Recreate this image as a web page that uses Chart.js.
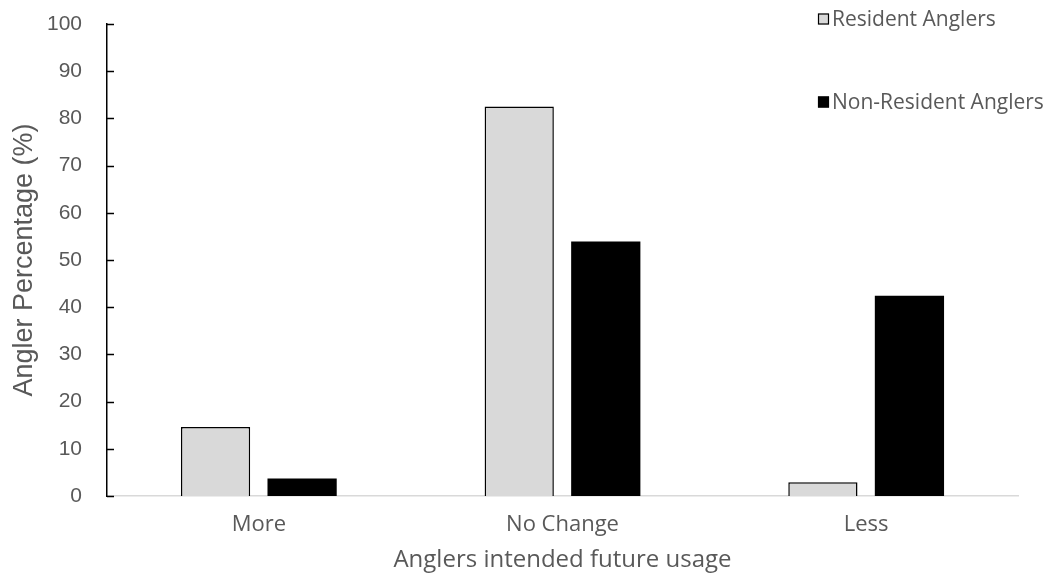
<!DOCTYPE html>
<html>
<head>
<meta charset="utf-8">
<script src="https://cdn.jsdelivr.net/npm/chart.js@4"></script>
<style>
  html, body { margin: 0; padding: 0; background: #fff; }
  #wrap { width: 1054px; height: 575px; position: relative; }
</style>
</head>
<body>
<div id="wrap"><canvas id="chart"></canvas></div>
<script>
// Survey categories and the share of anglers (%) in each
const categories = ['More', 'No Change', 'Less'];
const residentAnglers = [14.6, 82.5, 2.9];
const nonResidentAnglers = [3.7, 53.9, 42.4];
const seriesNames = ['Resident Anglers', 'Non-Resident Anglers'];
const yTicks = [0, 10, 20, 30, 40, 50, 60, 70, 80, 90, 100];

const textGray = '#595959';
const sansUI = '"Open Sans", "Noto Sans", sans-serif';
const sansAxis = '"Liberation Sans", Arial, sans-serif';

// Short tick marks pointing inward from the y axis line
const inwardTicks = {
  id: 'inwardTicks',
  afterDatasetsDraw(chart) {
    const y = chart.scales.y;
    const ctx = chart.ctx;
    ctx.save();
    ctx.strokeStyle = '#000';
    ctx.lineWidth = 1.5;
    y.ticks.forEach((t, i) => {
      const py = Math.round(y.getPixelForTick(i)) + 0.5;
      ctx.beginPath();
      ctx.moveTo(chart.chartArea.left, py);
      ctx.lineTo(chart.chartArea.left + 7, py);
      ctx.stroke();
    });
    ctx.restore();
  }
};

// Stacked legend in the upper right, built from the datasets
const cornerLegend = {
  id: 'cornerLegend',
  afterDraw(chart) {
    const ctx = chart.ctx;
    const x0 = 818, rows = [19, 102], box = 11;
    ctx.save();
    ctx.font = '21px ' + sansUI;
    ctx.textBaseline = 'middle';
    ctx.textAlign = 'left';
    chart.data.datasets.forEach((ds, i) => {
      const cy = rows[i];
      ctx.fillStyle = ds.backgroundColor;
      ctx.fillRect(x0, cy - box / 2, box, box);
      ctx.strokeStyle = '#000';
      ctx.lineWidth = 1.2;
      ctx.strokeRect(x0 + 0.5, cy - box / 2 + 0.5, box - 1, box - 1);
      ctx.fillStyle = textGray;
      ctx.fillText(ds.label, x0 + box + 3, cy + 1);
    });
    ctx.restore();
  }
};

new Chart(document.getElementById('chart'), {
  type: 'bar',
  data: {
    labels: categories,
    datasets: [
      {
        label: seriesNames[0],
        data: residentAnglers,
        backgroundColor: '#d9d9d9',
        borderColor: '#000',
        borderWidth: 1.5
      },
      {
        label: seriesNames[1],
        data: nonResidentAnglers,
        backgroundColor: '#000',
        borderColor: '#000',
        borderWidth: 0
      }
    ]
  },
  options: {
    responsive: true,
    maintainAspectRatio: false,
    animation: false,
    devicePixelRatio: 1,
    layout: { padding: { left: 0, top: 24, right: 36, bottom: 0 } },
    datasets: { bar: { categoryPercentage: 0.57, barPercentage: 0.8 } },
    plugins: {
      legend: { display: false },
      tooltip: { enabled: false }
    },
    scales: {
      x: {
        grid: { display: false, drawTicks: false },
        border: { display: true, color: '#d9d9d9', width: 1.5 },
        ticks: {
          color: textGray,
          font: { family: sansUI, size: 22 },
          padding: 16
        },
        title: {
          display: true,
          text: 'Anglers intended future usage',
          color: textGray,
          font: { family: sansUI, size: 24 },
          padding: { top: 0, bottom: 0 }
        },
        afterFit(s) { s.height = 79; }
      },
      y: {
        min: 0,
        max: 100,
        afterBuildTicks(s) { s.ticks = yTicks.map(v => ({ value: v })); },
        grid: { display: false, drawTicks: false },
        border: { display: true, color: '#000', width: 1.5 },
        ticks: {
          color: textGray,
          font: { family: sansAxis, size: 21 },
          padding: 25
        },
        title: {
          display: true,
          text: 'Angler Percentage (%)',
          color: textGray,
          font: { family: sansAxis, size: 27 },
          padding: { top: 8, bottom: 0 }
        },
        afterFit(s) {
          s.width = 107;
          s.paddingTop = 0;
          s.paddingBottom = 0;
        }
      }
    }
  },
  plugins: [inwardTicks, cornerLegend]
});
</script>
</body>
</html>
